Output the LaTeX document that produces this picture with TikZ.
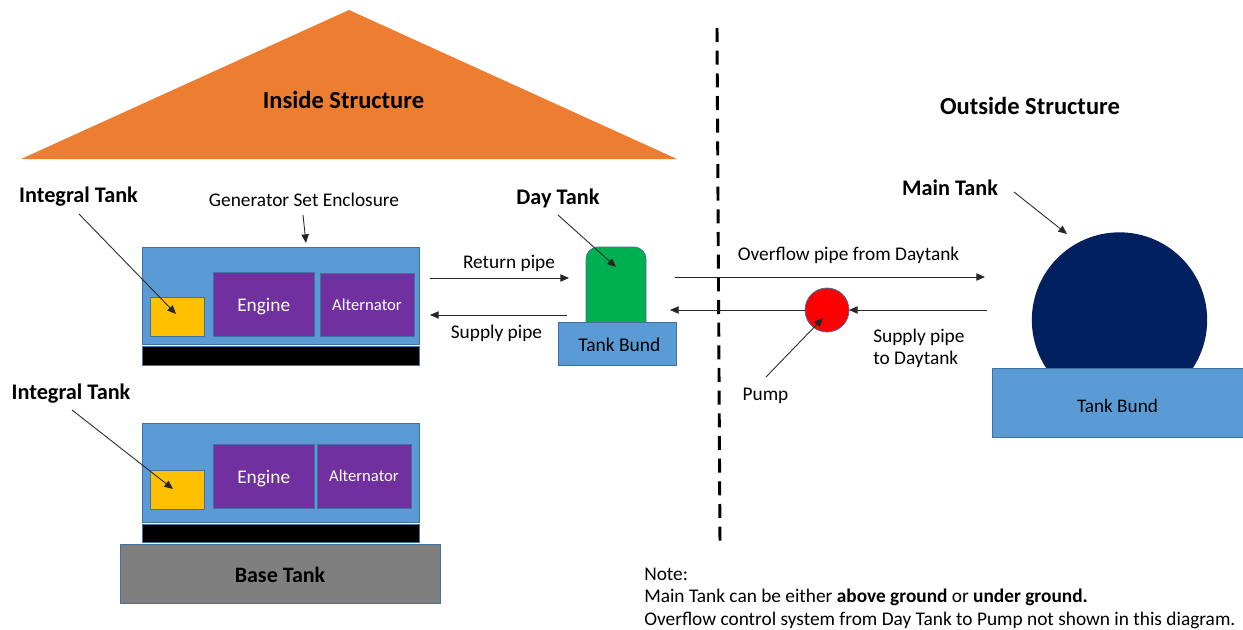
\documentclass[tikz,border=0pt]{standalone}
\usepackage{fontspec}
\setmainfont{Carlito}
\usetikzlibrary{arrows.meta}
\definecolor{cblue}{HTML}{5B9BD5}
\definecolor{cedge}{HTML}{41719C}
\definecolor{corange}{HTML}{ED7D31}
\definecolor{cpurple}{HTML}{7030A0}
\definecolor{cyellow}{HTML}{FFC000}
\definecolor{cgreen}{HTML}{00B050}
\definecolor{cnavy}{HTML}{002060}
\definecolor{cgrey}{HTML}{7F7F7F}
\tikzset{
  x=0.75pt,y=-0.75pt,
  shape box/.style={draw=cedge,line width=0.6pt,inner sep=0pt,outer sep=0pt},
  blue box/.style={shape box,fill=cblue},
  purple box/.style={shape box,fill=cpurple,text=white},
  yellow box/.style={shape box,fill=cyellow},
  black box/.style={shape box,fill=black},
  grey box/.style={shape box,fill=cgrey},
  head/.style={font=\fontsize{16.7}{18}\selectfont\bfseries,inner sep=0pt},
  big head/.style={font=\fontsize{18.4}{20}\selectfont\bfseries,inner sep=0pt},
  body/.style={font=\fontsize{14.5}{17}\selectfont,inner sep=0pt},
  pipe/.style={draw=black!85,line width=0.65pt,-{Triangle[length=6.5pt,width=5.5pt]}},
}
\newcommand{\bx}[7]{\node[#6,minimum width={(#4-#2)*0.75pt},minimum height={(#5-#3)*0.75pt}] (#1) at ({(#2+#4)/2},{(#3+#5)/2}) {#7};}
\newcommand{\lowered}[2]{\raisebox{-#1}[0pt][0pt]{#2}}
\begin{document}
\begin{tikzpicture}
\useasboundingbox (0,0) rectangle (1243,629);
% roof
\fill[corange] (21,159) -- (349,10) -- (677,159) -- cycle;
\node[big head] (inside) at (343.5,100) {Inside Structure};
\node[big head] (outside) at (1030,106) {Outside Structure};
% upper set
\bx{enc1}{142}{247}{419}{344}{blue box}{}
\bx{black1}{142}{346}{419}{365}{black box}{}
\bx{yel1}{150}{297}{204}{336}{yellow box}{}
\bx{eng1}{213}{272}{314.5}{336}{purple box}{\lowered{5.25pt}{\fontsize{14.5}{15}\selectfont Engine}}
\bx{alt1}{320}{273}{414}{336}{purple box}{\fontsize{12.5}{15}\selectfont Alternator}
% lower set
\bx{enc2}{142}{423}{419}{522}{blue box}{}
\bx{black2}{142}{524}{419}{542}{black box}{}
\bx{base}{120}{544}{440}{603}{grey box}{\lowered{7pt}{\fontsize{16.5}{18}\selectfont\bfseries Base Tank}}
\bx{yel2}{150}{470}{204}{509}{yellow box}{}
\bx{eng2}{213}{444}{314.5}{508}{purple box}{\lowered{5.25pt}{\fontsize{14.5}{15}\selectfont Engine}}
\bx{alt2}{317}{444}{411}{508}{purple box}{\fontsize{12.5}{15}\selectfont Alternator}
% day tank
\draw[fill=cgreen,draw=cedge,line width=0.6pt,rounded corners=9pt] (586,330) -- (586,247) -- (646,247) -- (646,330);
\bx{bund1}{558}{322}{676}{365}{blue box}{\lowered{6pt}{\fontsize{14.6}{17}\selectfont\hspace*{3.5pt}Tank Bund}}
% pump
\node[circle,draw=cedge,line width=0.6pt,fill=red,minimum size=33pt,inner sep=0pt,outer sep=0pt] (pump) at (827,310) {};
% main tank
\node[circle,fill=cnavy,minimum size=131.5pt,inner sep=0pt,outer sep=0pt] (main) at (1119.5,320) {};
\bx{bund2}{992}{368}{1243}{437}{blue box}{\lowered{7.5pt}{\fontsize{14.4}{17}\selectfont Tank Bund}}
% divider
\coordinate (divtop) at (717,28);
\coordinate (divbot) at (720,544);
\draw[line width=2.2pt,dash pattern=on 10.5pt off 6.5pt] (divtop) -- (divbot);
% labels
\node[head] (it1) at (78.5,197) {Integral Tank};
\node[head] (it2) at (71,394) {Integral Tank};
\node[head] (day) at (558,198) {Day Tank};
\node[head] (mt) at (950,188) {Main Tank};
\node[body] (gse) at (304,200) {Generator Set Enclosure};
\node[body] (ret) at (509,263) {Return pipe};
\node[body] (sup) at (496.5,333) {Supply pipe};
\node[body] (ovf) at (848.5,255) {Overflow pipe from Daytank};
\node[body,anchor=north west,align=left,font=\fontsize{14.5}{16.5}\selectfont] (sd) at (873,329) {Supply pipe\\to Daytank};
\node[body] (pl) at (765.5,396) {Pump};
% connector ends
\coordinate (it1s) at (79,214); \coordinate (it1e) at (176,314);
\coordinate (it2s) at (72,410); \coordinate (it2e) at (173,489);
\coordinate (gs) at (303,215);  \coordinate (ge) at (306,243);
\coordinate (rs) at (430,278);  \coordinate (re) at (569,278);
\coordinate (ss) at (567,315);  \coordinate (se) at (430,315);
\coordinate (ds) at (558,215);  \coordinate (de) at (616,267);
\coordinate (os) at (675,277);  \coordinate (oe) at (985,277);
\coordinate (pe) at (670,310);
\coordinate (ms) at (987,310);
\coordinate (ps) at (766,377);  \coordinate (pt) at (823,318);
\coordinate (mas) at (1014,192); \coordinate (mae) at (1067,234);
\draw[pipe] (it1s) -- (it1e);
\draw[pipe] (it2s) -- (it2e);
\draw[pipe] (gs) -- (ge);
\draw[pipe] (rs) -- (re);
\draw[pipe] (ss) -- (se);
\draw[pipe] (ds) -- (de);
\draw[pipe] (os) -- (oe);
\draw[pipe] (pump.west) -- (pe);
\draw[pipe] (ms) -- (pump.east);
\draw[pipe] (ps) -- (pt);
\draw[pipe] (mas) -- (mae);
% note
\node[body,anchor=north west,align=left,font=\fontsize{14.5}{17}\selectfont] (note) at (644,567.5) {Note:\\Main Tank can be either \textbf{above ground} or \textbf{under ground.}\\Overflow control system from Day Tank to Pump not shown in this diagram.};
\end{tikzpicture}
\end{document}
